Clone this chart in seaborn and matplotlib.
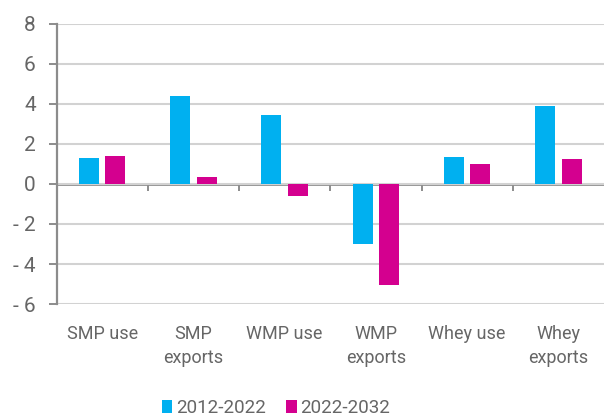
import numpy as np
import pandas as pd
import seaborn as sns
import matplotlib.pyplot as plt
from matplotlib.ticker import FixedLocator, FuncFormatter

categories = ["SMP use", "SMP\nexports", "WMP use", "WMP\nexports", "Whey use", "Whey\nexports"]
periods = ["2012-2022", "2022-2032"]
growth_2012_2022 = [1.3, 4.4, 3.45, -3.0, 1.35, 3.9]
growth_2022_2032 = [1.4, 0.35, -0.58, -5.05, 1.0, 1.23]
yticks = [-6, -4, -2, 0, 2, 4, 6, 8]

df = pd.DataFrame({
    "category": categories * 2,
    "period": [periods[0]] * len(categories) + [periods[1]] * len(categories),
    "value": growth_2012_2022 + growth_2022_2032,
})

sns.set_theme(style="white")
plt.rcParams["font.family"] = ["Roboto", "DejaVu Sans"]

text_grey = "#666666"
axis_grey = "#8c8c8c"
grid_grey = "#d2d2d2"
palette = {periods[0]: "#00b0f0", periods[1]: "#d4008f"}

fig = plt.figure(figsize=(6.04, 4.16), dpi=100)
ax = fig.add_axes([56.5 / 604, 1 - 304 / 416, 1 - 56.5 / 604, 280 / 416])

sns.barplot(data=df, x="category", y="value", hue="period", order=categories,
            hue_order=periods, palette=palette, width=0.58, gap=0.24,
            linewidth=0, saturation=1, legend=True, ax=ax, zorder=3)

ax.set_xlim(-0.5, len(categories) - 0.5)
ax.set_ylim(-6, 8)
ax.set_xlabel("")
ax.set_ylabel("")

# horizontal grid
ax.yaxis.set_major_locator(FixedLocator(yticks))
ax.yaxis.set_major_formatter(FuncFormatter(lambda v, p: f"- {abs(int(v))}" if v < 0 else f"{int(v)}"))
ax.grid(axis="y", color=grid_grey, linewidth=1.5, zorder=0)
ax.grid(axis="x", visible=False)
ax.set_axisbelow(True)

for side in ["top", "right", "bottom"]:
    ax.spines[side].set_visible(False)
ax.spines["left"].set_color(axis_grey)
ax.spines["left"].set_linewidth(1.6)

ax.tick_params(axis="y", direction="out", length=6, width=1.4, color=axis_grey,
               labelsize=15, labelcolor=text_grey, pad=9, left=True)
ax.tick_params(axis="x", length=0, labelsize=13, labelcolor=text_grey, pad=15)
for lbl in ax.get_xticklabels():
    lbl.set_linespacing(1.45)
    lbl.set_verticalalignment("top")

# zero line with separator ticks between categories
zero_axis = ax.secondary_xaxis(0, transform=ax.transData)
zero_axis.spines["bottom"].set_color(axis_grey)
zero_axis.spines["bottom"].set_linewidth(2)
zero_axis.spines["bottom"].set_zorder(4)
zero_axis.set_xticks(np.arange(0.5, len(categories) - 0.5, 1.0))
zero_axis.tick_params(axis="x", direction="out", length=5, width=1.4,
                      color=axis_grey, labelbottom=False)

# legend centred under the plot
handles, labels = ax.get_legend_handles_labels()
ax.get_legend().remove()
fig.legend(handles, labels, loc="center", bbox_to_anchor=(0.457, 1 - 408 / 416),
           ncol=2, frameon=False, fontsize=13.5, labelcolor=text_grey,
           handlelength=0.55, handleheight=0.7, handletextpad=0.2,
           columnspacing=1.1, borderaxespad=0)

fig.savefig("out.png", dpi=100)
